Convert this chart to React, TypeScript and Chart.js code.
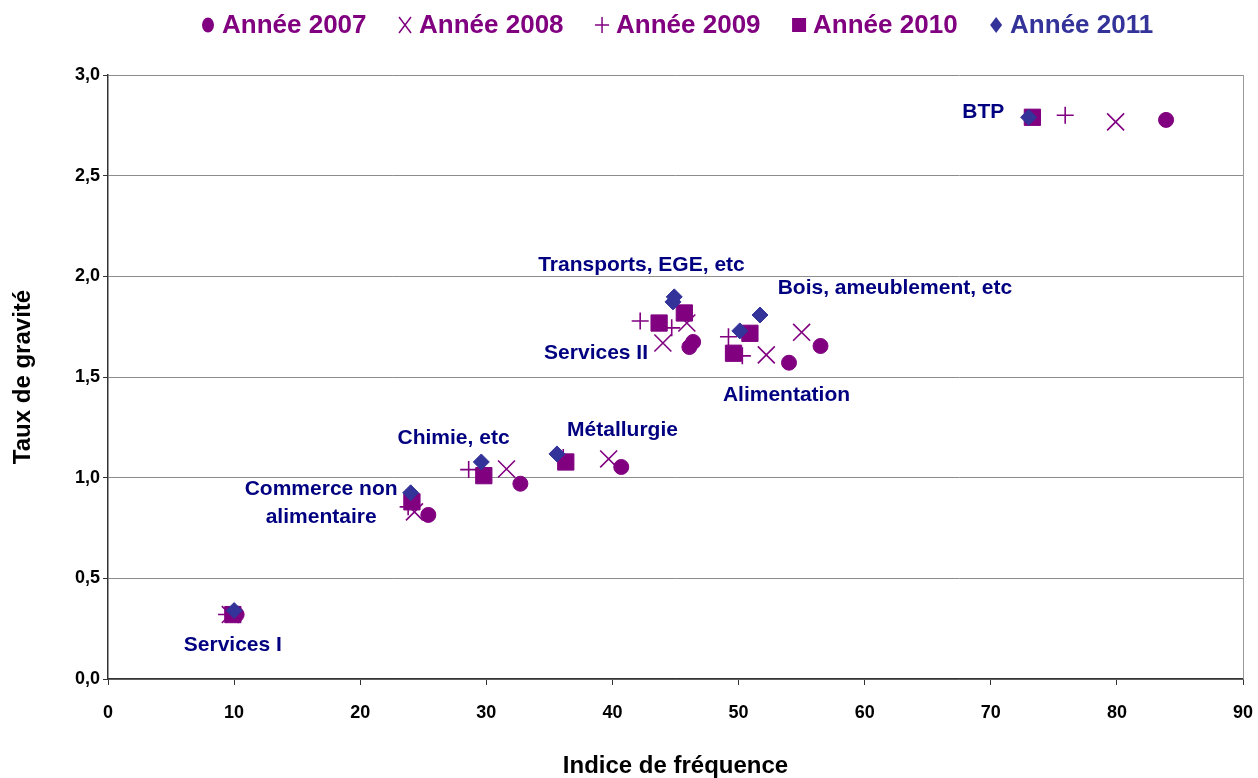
import React, { useEffect, useRef } from 'react';
import { Chart, registerables } from 'chart.js';

Chart.register(...registerables);

const FONT = 'Arial, "Liberation Sans", Helvetica, sans-serif';

// Sectors (same order in every series)
const sectors = [
  'Services I',
  'Commerce non alimentaire',
  'Chimie, etc',
  'Métallurgie',
  'Services II',
  'Transports, EGE, etc',
  'Alimentation',
  'Bois, ameublement, etc',
  'BTP',
];

// Indice de fréquence / Taux de gravité per year
const freq2007 = [10.2, 25.4, 32.7, 40.7, 46.1, 46.4, 54.0, 56.5, 83.9];
const grav2007 = [0.32, 0.815, 0.97, 1.053, 1.649, 1.674, 1.571, 1.654, 2.777];
const freq2008 = [9.7, 24.3, 31.6, 39.7, 44.0, 45.9, 52.2, 55.0, 79.9];
const grav2008 = [0.32, 0.83, 1.043, 1.093, 1.669, 1.768, 1.61, 1.722, 2.767];
const freq2009 = [9.4, 23.8, 28.6, 36.1, 42.2, 44.7, 50.3, 49.2, 75.9];
const grav2009 = [0.32, 0.855, 1.04, 1.1, 1.778, 1.744, 1.605, 1.7, 2.8];
const freq2010 = [9.9, 24.1, 29.8, 36.3, 43.7, 45.7, 49.6, 50.9, 73.3];
const grav2010 = [0.32, 0.88, 1.01, 1.078, 1.768, 1.818, 1.618, 1.717, 2.79];
const freq2011 = [10.0, 24.0, 29.6, 35.6, 44.8, 44.9, 50.1, 51.7, 73.0];
const grav2011 = [0.34, 0.925, 1.078, 1.118, 1.873, 1.898, 1.729, 1.808, 2.79];

const years = ['Année 2007', 'Année 2008', 'Année 2009', 'Année 2010', 'Année 2011'];
const freqs = [freq2007, freq2008, freq2009, freq2010, freq2011];
const gravs = [grav2007, grav2008, grav2009, grav2010, grav2011];

// Sector label text lines and anchors (data units)
const labelLines = [
  ['Services I'],
  ['Commerce non', 'alimentaire'],
  ['Chimie, etc'],
  ['Métallurgie'],
  ['Services II'],
  ['Transports, EGE, etc'],
  ['Alimentation'],
  ['Bois, ameublement, etc'],
  ['BTP'],
];
const labelAnchorX = [9.9, 16.9, 27.4, 40.8, 38.7, 42.3, 53.8, 62.4, 69.4];
const labelAnchorY = [0.169, 0.874, 1.197, 1.237, 1.62, 2.057, 1.411, 1.942, 2.817];

const PURPLE = '#800080';
const BLUE = '#333399';
const NAVY = '#000080';
const seriesColors = [PURPLE, PURPLE, PURPLE, PURPLE, BLUE];
const seriesStyles = ['circle', 'crossRot', 'cross', 'rect', 'rectRot'];
const seriesRadius = [7.5, 12, 8.5, 11.5, 8];

function drawLegendMarker(ctx: CanvasRenderingContext2D, style: string, x: number, y: number, color: string) {
  ctx.save();
  ctx.fillStyle = color;
  ctx.strokeStyle = color;
  ctx.lineWidth = 1.5;
  ctx.beginPath();
  if (style === 'circle') {
    ctx.ellipse(x, y, 6, 7.5, 0, 0, Math.PI * 2);
    ctx.fill();
  } else if (style === 'crossRot') {
    ctx.moveTo(x - 6, y - 8);
    ctx.lineTo(x + 6, y + 8);
    ctx.moveTo(x + 6, y - 8);
    ctx.lineTo(x - 6, y + 8);
    ctx.stroke();
  } else if (style === 'cross') {
    ctx.moveTo(x - 7, y);
    ctx.lineTo(x + 7, y);
    ctx.moveTo(x, y - 8);
    ctx.lineTo(x, y + 8);
    ctx.stroke();
  } else if (style === 'rect') {
    ctx.rect(x - 7, y - 7, 14, 14);
    ctx.fill();
  } else {
    ctx.moveTo(x, y - 8);
    ctx.lineTo(x + 6, y);
    ctx.lineTo(x, y + 8);
    ctx.lineTo(x - 6, y);
    ctx.closePath();
    ctx.fill();
  }
  ctx.restore();
}

const legendPlugin = {
  id: 'customLegend',
  afterDraw(chart: any) {
    const ctx = chart.ctx as CanvasRenderingContext2D;
    ctx.save();
    ctx.font = `bold 26px ${FONT}`;
    ctx.textBaseline = 'middle';
    ctx.textAlign = 'left';
    let x = 200;
    const y = 25;
    years.forEach((label, i) => {
      drawLegendMarker(ctx, seriesStyles[i], x + 8, y, seriesColors[i]);
      ctx.fillStyle = seriesColors[i];
      ctx.fillText(label, x + 22, y + 1);
      x += 22 + ctx.measureText(label).width + 30.5;
    });
    ctx.restore();
  },
};

const borderPlugin = {
  id: 'rightBorder',
  beforeDatasetsDraw(chart: any) {
    const { ctx, chartArea } = chart;
    ctx.save();
    ctx.strokeStyle = '#9a9a9a';
    ctx.lineWidth = 1;
    ctx.beginPath();
    ctx.moveTo(Math.round(chartArea.right) + 0.5, chartArea.top);
    ctx.lineTo(Math.round(chartArea.right) + 0.5, chartArea.bottom);
    ctx.stroke();
    ctx.restore();
  },
};

const sectorLabelPlugin = {
  id: 'sectorLabels',
  afterDraw(chart: any) {
    const ctx = chart.ctx as CanvasRenderingContext2D;
    const xs = chart.scales.x;
    const ys = chart.scales.y;
    ctx.save();
    ctx.font = `bold 21px ${FONT}`;
    ctx.fillStyle = NAVY;
    ctx.textAlign = 'center';
    ctx.textBaseline = 'middle';
    const lh = 28;
    labelLines.forEach((lines, i) => {
      const px = xs.getPixelForValue(labelAnchorX[i]);
      const py = ys.getPixelForValue(labelAnchorY[i]);
      const start = py - ((lines.length - 1) * lh) / 2;
      lines.forEach((t, j) => ctx.fillText(t, px, start + j * lh));
    });
    ctx.restore();
  },
};

export default function App() {
  const ref = useRef<HTMLCanvasElement | null>(null);

  useEffect(() => {
    document.body.style.margin = '0';
    const canvas = ref.current;
    if (!canvas) return;
    Chart.defaults.font.family = FONT;
    const datasets = years.map((label, i) => ({
      label,
      data: freqs[i].map((f, k) => ({ x: f, y: gravs[i][k] })),
      pointStyle: seriesStyles[i],
      pointRadius: seriesRadius[i],
      pointHoverRadius: seriesRadius[i],
      backgroundColor: seriesColors[i],
      borderColor: seriesColors[i],
      pointBorderWidth: i === 1 || i === 2 ? 1.6 : 1,
      showLine: false,
      order: 4 - i,
    }));
    const chart = new Chart(canvas, {
      type: 'scatter',
      data: { datasets: datasets as any },
      options: {
        animation: false,
        responsive: false,
        maintainAspectRatio: false,
        layout: { padding: { top: 75, right: 15, bottom: 0, left: 0 } },
        plugins: {
          legend: { display: false },
          tooltip: { enabled: false },
          title: { display: false },
        },
        scales: {
          x: {
            type: 'linear',
            min: 0,
            max: 90,
            afterFit: (s: any) => {
              s.height = 99;
              s.paddingLeft = 0;
              s.paddingRight = 0;
            },
            ticks: {
              stepSize: 10,
              color: '#000',
              font: { size: 18, weight: 'bold' },
              padding: 17,
              maxRotation: 0,
            },
            grid: {
              drawOnChartArea: false,
              drawTicks: true,
              tickLength: 6,
              tickColor: '#333',
            },
            border: { display: true, color: '#333', width: 1.5 },
            title: {
              display: true,
              text: 'Indice de fréquence',
              color: '#000',
              font: { size: 24, weight: 'bold', lineHeight: 1 },
              padding: { top: 0, bottom: 0 },
            },
          },
          y: {
            type: 'linear',
            min: 0,
            max: 3,
            afterFit: (s: any) => {
              s.width = 108;
              s.paddingTop = 0;
              s.paddingBottom = 0;
            },
            ticks: {
              stepSize: 0.5,
              color: '#000',
              font: { size: 18, weight: 'bold' },
              padding: 3,
              callback: (v: any) => Number(v).toFixed(1).replace('.', ','),
            },
            grid: {
              color: '#8c8c8c',
              lineWidth: 1,
              drawTicks: true,
              tickLength: 5,
              tickColor: '#333',
            },
            border: { display: true, color: '#333', width: 1.5 },
            title: {
              display: true,
              text: 'Taux de gravité',
              color: '#000',
              font: { size: 24, weight: 'bold', lineHeight: 1 },
              padding: { top: 11, bottom: 0 },
            },
          },
        },
      },
      plugins: [borderPlugin, sectorLabelPlugin, legendPlugin],
    });
    return () => chart.destroy();
  }, []);

  return (
    <div style={{ width: 1258, height: 778, background: '#fff' }}>
      <canvas ref={ref} width={1258} height={778} style={{ display: 'block', width: 1258, height: 778 }} />
    </div>
  );
}
